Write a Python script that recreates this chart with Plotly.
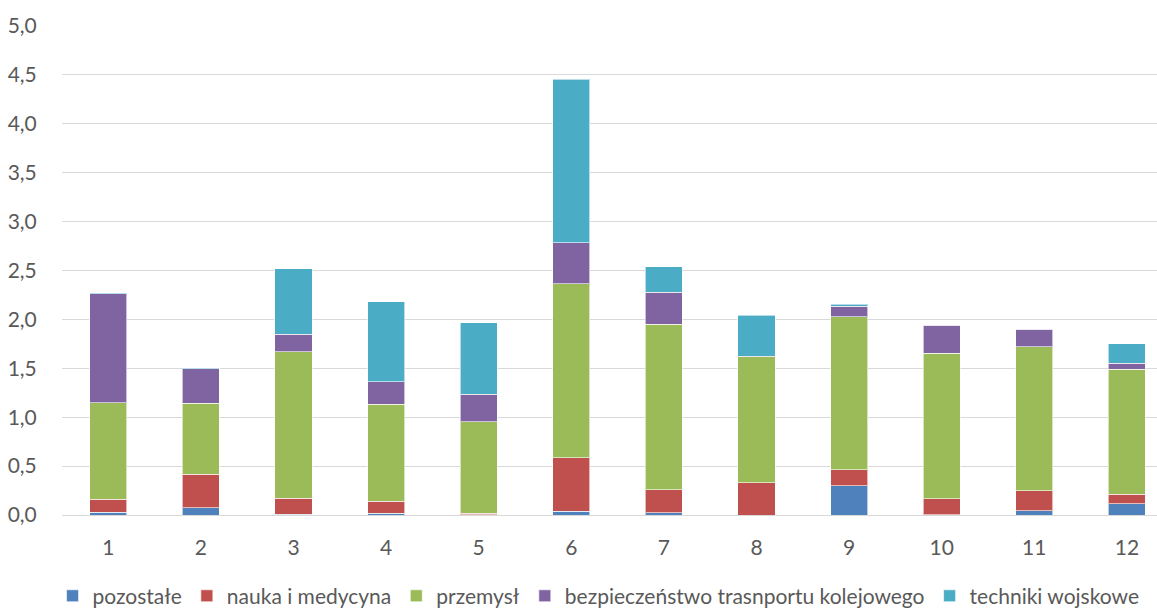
import plotly.graph_objects as go

categories = ["1", "2", "3", "4", "5", "6", "7", "8", "9", "10", "11", "12"]
pozostale = [0.03, 0.075, 0.01, 0.02, 0.005, 0.04, 0.025, 0.0, 0.30, 0.005, 0.045, 0.115]
nauka = [0.13, 0.34, 0.16, 0.12, 0.015, 0.545, 0.235, 0.33, 0.165, 0.16, 0.205, 0.095]
przemysl = [0.99, 0.73, 1.50, 0.99, 0.935, 1.78, 1.69, 1.29, 1.56, 1.49, 1.47, 1.28]
bezpieczenstwo = [1.11, 0.35, 0.18, 0.23, 0.28, 0.42, 0.33, 0.005, 0.11, 0.285, 0.18, 0.06]
techniki = [0.005, 0.005, 0.67, 0.82, 0.73, 1.67, 0.26, 0.42, 0.02, 0.0, 0.0, 0.20]

series = [
    ("pozostałe", pozostale, "#4F81BD"),
    ("nauka i medycyna", nauka, "#C0504D"),
    ("przemysł", przemysl, "#9BBB59"),
    ("bezpieczeństwo trasnportu kolejowego", bezpieczenstwo, "#8064A2"),
    ("techniki wojskowe", techniki, "#4BACC6"),
]

x_vals = list(range(1, len(categories) + 1))

fig = go.Figure()
for name, vals, color in series:
    fig.add_trace(go.Bar(
        x=x_vals, y=vals, name=name, width=0.4,
        marker=dict(color=color, line=dict(color="rgba(255,255,255,0.6)", width=1)),
    ))

font_family = "Lato, 'Open Sans', sans-serif"
fig.update_layout(
    barmode="stack",
    width=1157, height=608,
    margin=dict(l=62, r=0, t=26, b=93, autoexpand=False),
    plot_bgcolor="white", paper_bgcolor="white",
    font=dict(family=font_family, size=21, color="#595959"),
    showlegend=True,
    legend=dict(orientation="h", x=0.49, xref="paper", xanchor="center",
                y=-0.124, yref="paper", yanchor="top",
                font=dict(size=21, color="#595959"), itemwidth=30, traceorder="normal",
                tracegroupgap=0),
    separators=", ",
)
fig.update_xaxes(
    range=[0.5, 12.325], tickmode="array", tickvals=x_vals, ticktext=categories,
    showgrid=False, zeroline=False, showline=False,
    ticks="outside", ticklen=14, tickcolor="rgba(0,0,0,0)",
)
fig.update_yaxes(
    range=[0, 5], dtick=0.5, tickformat=".1f",
    showgrid=True, gridcolor="#D9D9D9", gridwidth=1,
    zeroline=True, zerolinecolor="#D9D9D9", zerolinewidth=1,
    ticks="outside", ticklen=20, tickcolor="rgba(0,0,0,0)",
)

fig.write_html("out.html")
